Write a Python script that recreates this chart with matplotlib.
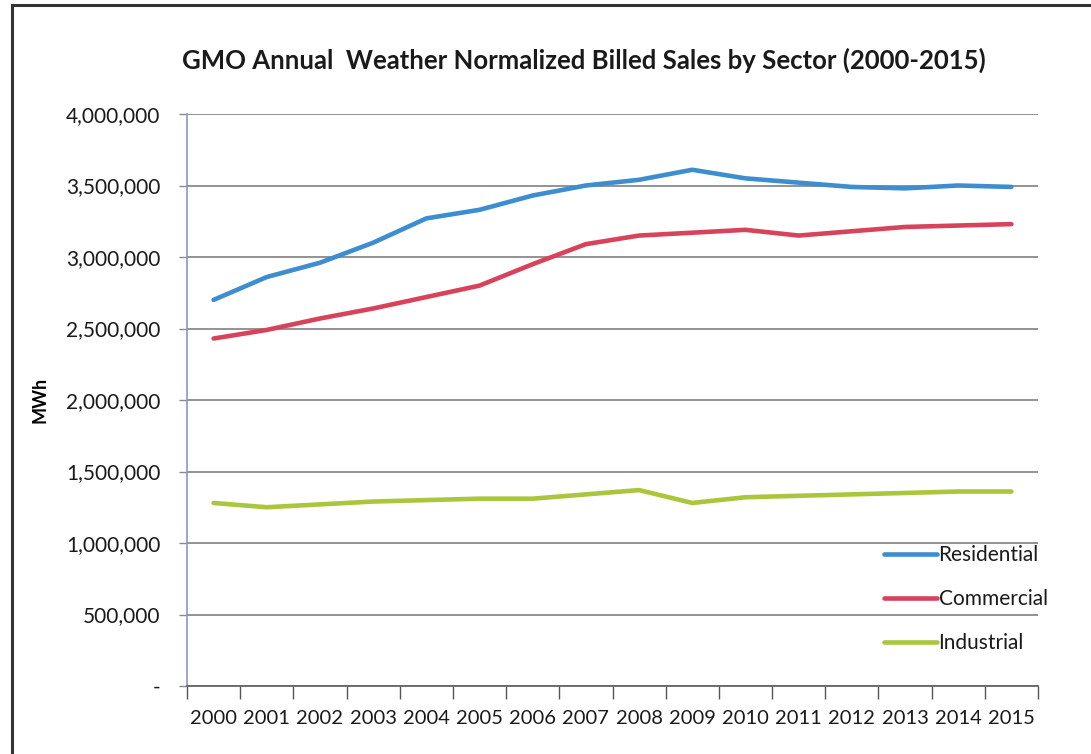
"""GMO annual weather normalized billed sales by sector."""

import numpy as np
import matplotlib.pyplot as plt
from matplotlib.patches import Rectangle
from matplotlib.ticker import FuncFormatter, FixedLocator

years = [str(y) for y in range(2000, 2016)]
residential = [2700000, 2860000, 2960000, 3100000, 3270000, 3330000, 3430000, 3500000,
               3540000, 3610000, 3550000, 3520000, 3490000, 3480000, 3500000, 3490000]
commercial = [2430000, 2490000, 2570000, 2640000, 2720000, 2800000, 2950000, 3090000,
              3150000, 3170000, 3190000, 3150000, 3180000, 3210000, 3220000, 3230000]
industrial = [1280000, 1250000, 1270000, 1290000, 1300000, 1310000, 1310000, 1340000,
              1370000, 1280000, 1320000, 1330000, 1340000, 1350000, 1360000, 1360000]

series = [
    ("Residential", residential, "#3e8dcf"),
    ("Commercial", commercial, "#d8435c"),
    ("Industrial", industrial, "#a9c63c"),
]

plt.rcParams['font.family'] = ['Lato', 'DejaVu Sans']
plt.rcParams['text.color'] = '#1a1a1a'

W, H = 1091, 754
fig = plt.figure(figsize=(W / 100, H / 100), dpi=100)
ax = fig.add_axes([187 / W, 1 - 686 / H, (1038 - 187) / W, (686 - 114) / H])

# scanned page border
fig.patches.append(Rectangle((12 / W, -0.1), 1.2, 1 - 5 / H + 0.1,
                             transform=fig.transFigure, fill=False,
                             edgecolor='#333333', linewidth=2.2))

x = np.arange(len(years))
for name, vals, color in series:
    ax.plot(x, vals, color=color, linewidth=3.3, label=name,
            solid_capstyle='round', solid_joinstyle='round')

ax.set_xlim(-0.5, len(years) - 0.5)
ax.set_ylim(0, 4000000)

# gridlines
yt = np.arange(0, 4000001, 500000)
ax.set_yticks(yt)
ax.yaxis.grid(True, color='#8a8a8a', linewidth=1.3)
ax.set_axisbelow(True)
ax.yaxis.set_major_formatter(FuncFormatter(lambda v, p: '-' if v == 0 else f'{int(v):,}'))
ax.tick_params(axis='y', length=6, width=1, color='#8a8a8a', labelsize=15,
               pad=13, labelcolor='#1a1a1a')

# category axis: tick marks at boundaries, labels at centres
ax.xaxis.set_major_locator(FixedLocator(np.arange(-0.5, len(years), 1.0)))
ax.xaxis.set_minor_locator(FixedLocator(x))
ax.set_xticklabels([], minor=False)
ax.set_xticklabels(years, minor=True, fontsize=14.5)
ax.tick_params(axis='x', which='major', length=9, width=1, color='#555555', direction='out')
ax.tick_params(axis='x', which='minor', length=0, pad=17, labelcolor='#1a1a1a')

for s in ['top', 'right']:
    ax.spines[s].set_visible(False)
ax.spines['left'].set_color('#8a9ab8')
ax.spines['left'].set_linewidth(1.2)
ax.spines['bottom'].set_color('#666666')
ax.spines['bottom'].set_linewidth(1.3)

ax.set_ylabel('MWh', fontsize=13, fontweight='bold')
ax.yaxis.set_label_coords(-0.163, 0.5)

fig.text(584 / W, 1 - 60 / H, 'GMO Annual  Weather Normalized Billed Sales by Sector (2000-2015)',
         ha='center', va='center', fontsize=18.5, fontweight='bold', color='#1a1a1a')

ax.legend(loc='upper left', bbox_to_anchor=(874 / W, 1 - 535 / H),
          bbox_transform=fig.transFigure, frameon=False, fontsize=15,
          handlelength=2.5, handletextpad=0.1, labelspacing=1.15, borderpad=0)

fig.savefig('out.png', dpi=100)
